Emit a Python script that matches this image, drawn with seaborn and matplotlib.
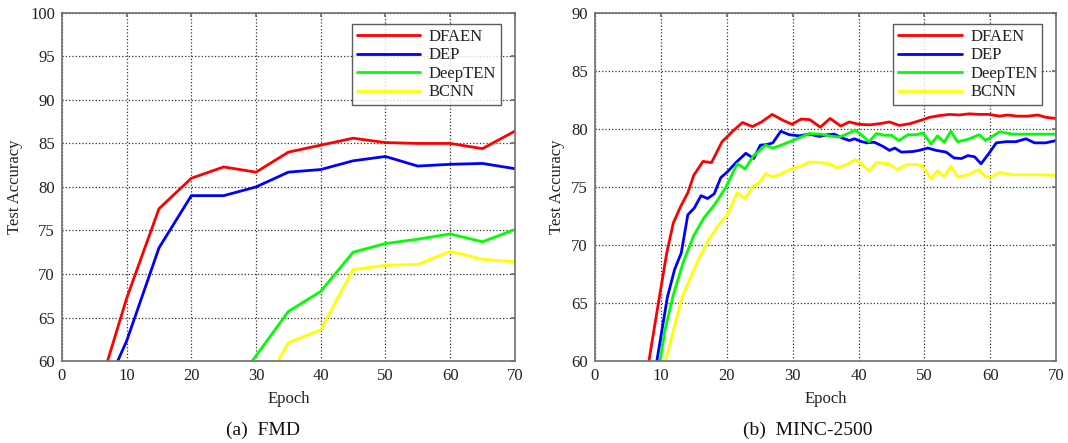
import numpy as np
import pandas as pd
import matplotlib
matplotlib.use("Agg")
import matplotlib.pyplot as plt
import seaborn as sns

# ---------------- data ----------------
methods = ["DFAEN", "DEP", "DeepTEN", "BCNN"]
colors = ["#FF0000", "#0000FF", "#00FF00", "#FFFF00"]

# (a) FMD
fmd_dfaen_x = [5, 10, 15, 20, 25, 30, 35, 40, 45, 50, 55, 60, 65, 70]
fmd_dfaen_y = [55.0, 67.2, 77.5, 81.0, 82.3, 81.7, 84.0, 84.8, 85.6, 85.1, 85.0, 85.0, 84.4, 86.4]
fmd_dep_x = [5, 10, 15, 20, 25, 30, 35, 40, 45, 50, 55, 60, 65, 70]
fmd_dep_y = [54.0, 62.3, 73.0, 79.0, 79.0, 80.0, 81.7, 82.0, 83.0, 83.5, 82.4, 82.6, 82.7, 82.1]
fmd_deepten_x = [25, 30, 35, 40, 45, 50, 55, 60, 65, 70]
fmd_deepten_y = [55.5, 60.6, 65.7, 68.0, 72.5, 73.5, 74.0, 74.6, 73.7, 75.1]
fmd_bcnn_x = [30, 35, 40, 45, 50, 55, 60, 65, 70]
fmd_bcnn_y = [55.6, 62.1, 63.6, 70.5, 71.0, 71.1, 72.6, 71.7, 71.4]

# (b) MINC-2500
minc_dfaen_x = [7.5, 8.2, 9.0, 9.9, 10.9, 11.9, 13.0, 14.1, 15.0, 16.4, 17.7, 19.3, 20.9,
                22.4, 23.9, 25.3, 26.9, 28.5, 29.9, 31.3, 32.6, 34.2, 35.7, 37.3, 38.6,
                40.0, 41.7, 43.2, 44.7, 46.2, 47.8, 49.5, 50.8, 52.3, 53.8, 55.3, 56.8,
                58.3, 59.8, 61.4, 62.6, 64.1, 65.7, 67.2, 68.4, 70.0]
minc_dfaen_y = [57.5, 60.0, 62.8, 65.9, 69.3, 71.9, 73.3, 74.5, 76.0, 77.2, 77.1, 78.9, 79.8,
                80.55, 80.2, 80.6, 81.25, 80.75, 80.4, 80.85, 80.8, 80.15, 80.9, 80.25, 80.6,
                80.4, 80.35, 80.45, 80.6, 80.3, 80.45, 80.75, 81.0, 81.15, 81.25, 81.2, 81.3,
                81.25, 81.25, 81.1, 81.2, 81.1, 81.1, 81.2, 81.0, 80.9]
minc_dep_x = [8.8, 9.4, 11.0, 12.1, 13.1, 14.1, 15.1, 16.1, 17.1, 18.1, 19.1, 20.1, 21.4,
              22.9, 24.1, 25.1, 26.1, 27.0, 28.2, 29.5, 31.0, 32.5, 34.1, 35.3, 36.3,
              37.6, 38.6, 39.4, 40.2, 41.2, 42.4, 43.7, 44.7, 45.5, 46.5, 48.2, 49.2,
              50.5, 51.8, 53.3, 54.5, 55.6, 56.6, 57.6, 58.6, 59.8, 60.9, 62.4, 63.9,
              65.4, 66.7, 68.4, 70.0]
minc_dep_y = [57.5, 60.0, 65.5, 67.9, 69.3, 72.6, 73.2, 74.25, 74.0, 74.4, 75.8, 76.3, 77.1,
              77.9, 77.45, 78.6, 78.65, 78.8, 79.8, 79.5, 79.4, 79.55, 79.35, 79.5, 79.55,
              79.2, 79.0, 79.15, 78.95, 78.8, 78.85, 78.5, 78.15, 78.35, 78.0, 78.05, 78.15,
              78.35, 78.15, 78.0, 77.5, 77.45, 77.7, 77.6, 77.0, 77.9, 78.8, 78.9, 78.9,
              79.15, 78.8, 78.8, 79.0]
minc_deepten_x = [9.3, 9.9, 10.6, 11.9, 13.4, 15.0, 16.5, 18.2, 19.9, 21.6, 22.8, 24.0, 25.9,
                  27.0, 28.5, 30.0, 31.5, 32.5, 34.3, 36.1, 37.1, 38.4, 39.5, 40.4, 41.6,
                  42.7, 44.0, 45.0, 46.1, 47.5, 48.7, 49.8, 51.0, 52.0, 53.0, 54.0, 55.0,
                  56.6, 58.3, 59.3, 61.4, 63.4, 65.4, 67.4, 70.0]
minc_deepten_y = [57.5, 60.0, 62.6, 65.7, 68.5, 70.8, 72.3, 73.5, 75.0, 77.0, 76.55, 77.65, 78.6,
                  78.35, 78.65, 79.0, 79.35, 79.6, 79.55, 79.35, 79.3, 79.6, 79.9, 79.5, 78.9,
                  79.6, 79.45, 79.45, 79.0, 79.5, 79.5, 79.65, 78.7, 79.4, 78.85, 79.8, 78.9,
                  79.1, 79.5, 79.0, 79.75, 79.55, 79.55, 79.55, 79.55]
minc_bcnn_x = [10.0, 10.7, 11.8, 13.3, 15.6, 17.3, 18.8, 20.1, 21.6, 22.8, 23.9, 24.9, 25.9,
               27.0, 28.5, 30.0, 31.5, 32.5, 34.1, 35.6, 36.6, 37.9, 39.5, 40.4, 41.6,
               42.7, 44.5, 45.9, 47.2, 48.7, 49.7, 51.0, 52.0, 53.0, 54.0, 55.0, 56.6,
               58.3, 59.3, 60.0, 61.4, 63.4, 65.4, 67.4, 70.0]
minc_bcnn_y = [57.5, 60.0, 62.4, 65.6, 68.6, 70.5, 71.75, 72.6, 74.5, 74.0, 75.0, 75.35, 76.15,
               75.85, 76.2, 76.6, 76.85, 77.15, 77.1, 77.0, 76.65, 76.85, 77.35, 77.0, 76.4,
               77.1, 77.0, 76.5, 76.9, 76.95, 76.8, 75.7, 76.4, 75.9, 76.8, 75.85, 76.05,
               76.5, 75.85, 75.85, 76.25, 76.05, 76.05, 76.05, 76.0]

x_ticks = [0, 10, 20, 30, 40, 50, 60, 70]
fmd_yticks = [60, 65, 70, 75, 80, 85, 90, 95, 100]
minc_yticks = [60, 65, 70, 75, 80, 85, 90]
captions = ["(a)  FMD", "(b)  MINC-2500"]


def make_df(xs, ys):
    frames = []
    for m, x, y in zip(methods, xs, ys):
        frames.append(pd.DataFrame({"Epoch": x, "Acc": y, "Method": m}))
    return pd.concat(frames, ignore_index=True)


df_fmd = make_df([fmd_dfaen_x, fmd_dep_x, fmd_deepten_x, fmd_bcnn_x],
                 [fmd_dfaen_y, fmd_dep_y, fmd_deepten_y, fmd_bcnn_y])
df_minc = make_df([minc_dfaen_x, minc_dep_x, minc_deepten_x, minc_bcnn_x],
                  [minc_dfaen_y, minc_dep_y, minc_deepten_y, minc_bcnn_y])

# ---------------- style ----------------
sns.set_theme(style="white")
plt.rcParams["font.family"] = ["Liberation Serif", "DejaVu Serif"]

fig = plt.figure(figsize=(10.68, 4.43), dpi=100)
ax_bottom, ax_h = 0.185, 0.786
ax1 = fig.add_axes([0.058, ax_bottom, 0.424, ax_h])
ax2 = fig.add_axes([0.557, ax_bottom, 0.432, ax_h])

palette = dict(zip(methods, colors))
FS = 12

for ax, df, yt, cap, cx, ylabx in [
    (ax1, df_fmd, fmd_yticks, captions[0], 0.246, 0.0215),
    (ax2, df_minc, minc_yticks, captions[1], 0.756, 0.529),
]:
    sns.lineplot(data=df, x="Epoch", y="Acc", hue="Method", palette=palette,
                 hue_order=methods, estimator=None, sort=False, linewidth=2.0,
                 ax=ax, legend=True)
    ax.set_xlim(0, 70)
    ax.set_ylim(yt[0], yt[-1])
    ax.set_xticks(x_ticks)
    ax.set_yticks(yt)
    ax.set_xticklabels([str(v) for v in x_ticks], fontsize=FS)
    ax.set_yticklabels([str(v) for v in yt], fontsize=FS)
    ax.grid(True, linestyle=":", color="#333333", linewidth=0.9)
    ax.set_axisbelow(True)
    for s in ax.spines.values():
        s.set_color("#707070")
        s.set_linewidth(1.2)
    ax.tick_params(direction="in", length=3, color="#707070", pad=5,
                   top=True, right=True, labelcolor="#222222")
    ax.set_xlabel("Epoch", fontsize=FS, color="#222222", labelpad=5)
    ax.set_ylabel("Test Accuracy", fontsize=FS, color="#222222")
    ax.yaxis.set_label_coords(ylabx, ax_bottom + ax_h / 2, transform=fig.transFigure)
    handles, labels = ax.get_legend_handles_labels()
    leg = ax.legend(handles, labels, loc="upper right", bbox_to_anchor=(0.97, 0.968),
                    fontsize=FS, frameon=True, fancybox=False, handlelength=3.8,
                    borderpad=0.3, labelspacing=0.15, handletextpad=0.5,
                    borderaxespad=0.0)
    leg.get_frame().set_edgecolor("#333333")
    leg.get_frame().set_linewidth(1.0)
    for line in leg.get_lines():
        line.set_linewidth(2.0)
    for t in leg.get_texts():
        t.set_color("#222222")
    fig.text(cx, 0.029, cap, fontsize=14, ha="center", va="center", color="#111111")

fig.savefig("out.png", dpi=100)
